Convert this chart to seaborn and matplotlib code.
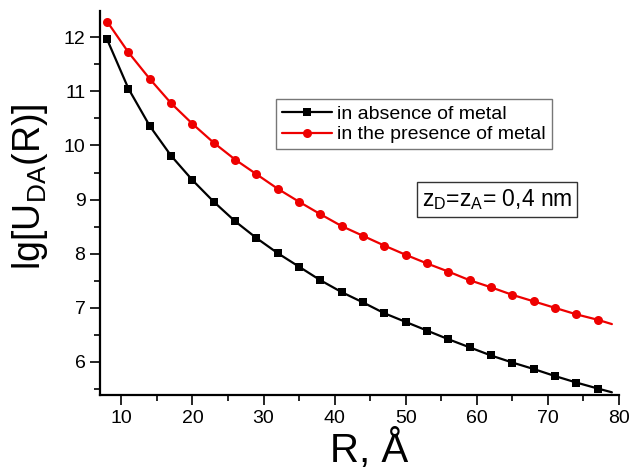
import matplotlib
matplotlib.use("Agg")
import matplotlib.pyplot as plt
import seaborn as sns
import pandas as pd
import numpy as np
from matplotlib.ticker import MultipleLocator

# Data
R_vals = [8, 11, 14, 17, 20, 23, 26, 29, 32, 35, 38, 41, 44, 47, 50, 53, 56, 59,
          62, 65, 68, 71, 74, 77, 79]
absence = [11.96, 11.05, 10.36, 9.81, 9.36, 8.96, 8.60, 8.29, 8.01, 7.76, 7.51,
           7.29, 7.10, 6.90, 6.74, 6.58, 6.42, 6.27, 6.12, 5.99, 5.87, 5.74,
           5.62, 5.51, 5.44]
presence = [12.29, 11.72, 11.23, 10.78, 10.40, 10.05, 9.74, 9.47, 9.20, 8.96,
            8.73, 8.51, 8.33, 8.15, 7.98, 7.82, 7.67, 7.51, 7.38, 7.24, 7.12,
            7.00, 6.88, 6.78, 6.70]
labels = ["in absence of metal", "in the presence of metal"]
xticks = [10, 20, 30, 40, 50, 60, 70, 80]
yticks = [6, 7, 8, 9, 10, 11, 12]

sns.set_theme(style="ticks")
plt.rcParams["font.family"] = ["Liberation Sans", "DejaVu Sans"]
plt.rcParams["mathtext.default"] = "regular"
plt.rcParams["text.color"] = "black"
plt.rcParams["axes.labelcolor"] = "black"

df = pd.DataFrame({"R": R_vals + R_vals,
                   "val": absence + presence,
                   "series": [labels[0]] * len(R_vals) + [labels[1]] * len(R_vals)})

fig = plt.figure(figsize=(6.32, 4.74), dpi=100)
ax = fig.add_axes([100 / 632, 1 - 395 / 474, 519 / 632, (395 - 10.7) / 474])

marks = list(range(len(R_vals) - 1))
sns.lineplot(data=df[df.series == labels[0]], x="R", y="val", ax=ax, color="black",
             lw=1.6, marker="s", markersize=5.5, markeredgewidth=0, markevery=marks,
             label=labels[0])
sns.lineplot(data=df[df.series == labels[1]], x="R", y="val", ax=ax, color="#ee0000",
             lw=1.6, marker="o", markersize=6.5, markeredgewidth=0, markevery=marks,
             label=labels[1])

ax.set_xlim(7.0, 80)
ax.set_ylim(5.39, 12.49)
ax.set_xticks(xticks)
ax.set_yticks(yticks)
ax.xaxis.set_minor_locator(MultipleLocator(5))
ax.yaxis.set_minor_locator(MultipleLocator(0.5))
ax.tick_params(which="major", length=7, width=1.2, labelsize=14, color="black",
               labelcolor="black", direction="out")
ax.tick_params(which="minor", length=4, width=1.2, color="black", direction="out")
for s in ["top", "right"]:
    ax.spines[s].set_visible(False)
for s in ["left", "bottom"]:
    ax.spines[s].set_linewidth(1.6)
    ax.spines[s].set_color("black")

ax.set_xlabel("R, Å", fontsize=29, color="black")
ax.xaxis.set_label_coords((369 - 100) / 519, (395 - 470) / 384.3, transform=ax.transAxes)
ax.xaxis.label.set_va("bottom")
ax.set_ylabel("lg[U$_{DA}$(R)]", fontsize=27, color="black")
ax.yaxis.set_label_coords((10 - 100) / 519, (395 - 187) / 384.3, transform=ax.transAxes)
ax.yaxis.label.set_va("top")

leg = ax.legend(loc="upper left", bbox_to_anchor=(0.339, 0.769), borderaxespad=0,
                frameon=True, fancybox=False, fontsize=14, handlelength=2.6,
                handletextpad=0.25, borderpad=0.3, labelspacing=0.15)
leg.get_frame().set_edgecolor("#555555")
leg.get_frame().set_linewidth(1.0)
for t in leg.get_texts():
    t.set_color("black")

ax.text(0.7645, 0.509, "z$_D$=z$_A$= 0,4 nm", transform=ax.transAxes, fontsize=16.5,
        ha="center", va="center", color="black",
        bbox=dict(boxstyle="square,pad=0.22", fc="white", ec="#333333", lw=1.0))

fig.savefig("out.png", dpi=100)
